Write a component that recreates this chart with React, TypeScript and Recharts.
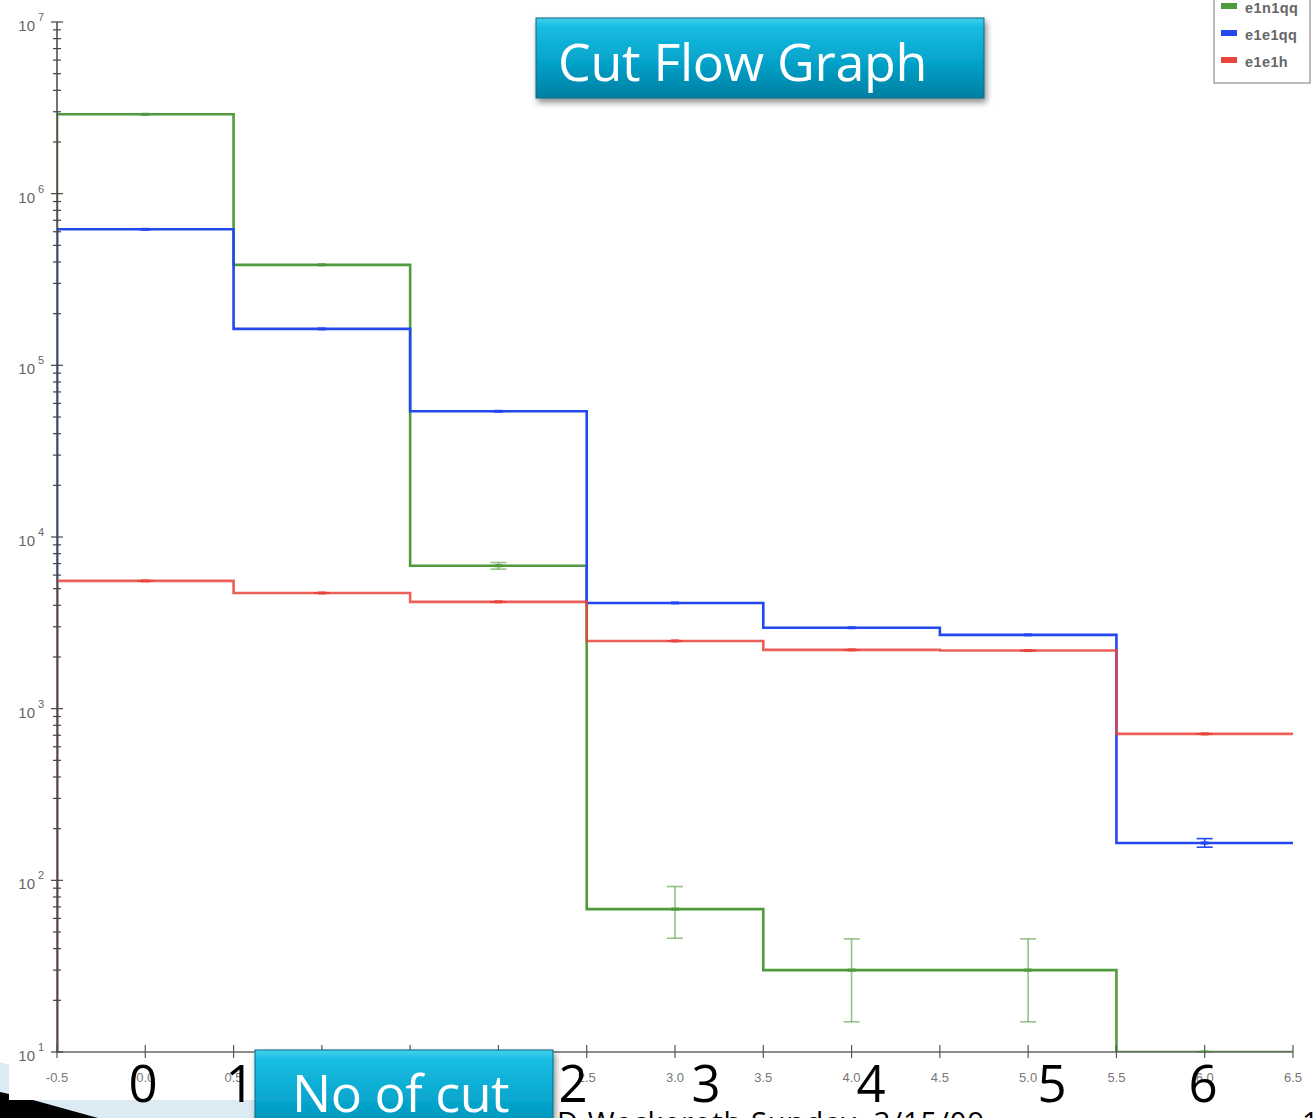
import React from "react";
import { ComposedChart, Line, Scatter, ErrorBar, XAxis, YAxis } from "recharts";

// bins of the cut-flow histogram: centre 0..6, edges at half-integers
const binCenters = [0, 1, 2, 3, 4, 5, 6];
const binEdges = [-0.5, 0.5, 1.5, 2.5, 3.5, 4.5, 5.5, 6.5];

// events surviving each cut
const e1n1qq = [2.9e6, 3.85e5, 6.8e3, 68, 30, 30, 10];
const e1e1qq = [6.2e5, 1.63e5, 5.4e4, 4.13e3, 2.96e3, 2.69e3, 165];
const e1e1h = [5.55e3, 4.72e3, 4.19e3, 2.48e3, 2.2e3, 2.18e3, 713];

// statistical errors per bin as [down, up]
const e1n1qqErr = [[0, 0], [0, 0], [300, 300], [22, 24], [15, 15.6], [15, 15.6], [0, 0]];
const e1e1qqErr = [[0, 0], [0, 0], [0, 0], [0, 0], [0, 0], [0, 0], [9, 10]];
const e1e1hErr = [[0, 0], [0, 0], [0, 0], [0, 0], [0, 0], [0, 0], [0, 0]];

const xTicks = [-0.5, 0, 0.5, 1, 1.5, 2, 2.5, 3, 3.5, 4, 4.5, 5, 5.5, 6, 6.5];
const decades = [10, 1e2, 1e3, 1e4, 1e5, 1e6, 1e7];
const minorSteps = [2, 3, 4, 5, 6, 7, 8, 9];

const cutLabels = ["0", "1", "2", "3", "4", "5", "6"];
const CUT_LABEL_X = [143, 240, 573, 706, 871, 1052, 1203];

const Y_MIN = 10;
const W = 1316;
const H = 1118;

const series = [
  { name: "e1n1qq", values: e1n1qq, errs: e1n1qqErr, color: "#4f9a3c", errColor: "rgba(79,154,60,0.6)", opacity: 1 },
  { name: "e1e1qq", values: e1e1qq, errs: e1e1qqErr, color: "#2448f0", errColor: "#2448f0", opacity: 1 },
  { name: "e1e1h", values: e1e1h, errs: e1e1hErr, color: "#e8453c", errColor: "#e8453c", opacity: 0.85 },
];

const yTicks = decades.flatMap((d, i) =>
  i === decades.length - 1 ? [d] : [d, ...minorSteps.map((m) => d * m)]
);

// histogram outline: rise from the axis at the first edge, then one step per bin
function stepData(values: number[]) {
  const pts = [{ x: binEdges[0], y: Y_MIN }];
  values.forEach((v, i) => pts.push({ x: binEdges[i], y: v }));
  pts.push({ x: binEdges[binEdges.length - 1], y: values[values.length - 1] });
  return pts;
}

function centreData(values: number[], errs: number[][]) {
  return binCenters.map((c, i) => ({ x: c, y: values[i], err: errs[i] }));
}

const XTick = ({ x, y, payload }: any) => (
  <g>
    <line x1={x} x2={x} y1={y - 7} y2={y + 6} stroke="#555" strokeWidth={1.2} />
    <text x={x} y={y + 30} textAnchor="middle" fontSize={13} fill="#777" fontFamily="Liberation Sans, Arial, sans-serif">
      {payload.value.toFixed(1)}
    </text>
  </g>
);

const YTick = ({ x, y, payload }: any) => {
  const v = payload.value;
  const exp = Math.round(Math.log10(v));
  const major = Math.abs(v - Math.pow(10, exp)) < 1e-6 * v;
  const len = major ? 6 : 4;
  return (
    <g>
      <line x1={x - len} x2={x + len} y1={y} y2={y} stroke="#444" strokeWidth={1.2} />
      {major && (
        <g fontFamily="Liberation Sans, Arial, sans-serif" fill="#666">
          <text x={x - 22} y={y + 9} textAnchor="end" fontSize={15}>10</text>
          <text x={x - 19} y={y - 1} fontSize={11}>{exp}</text>
        </g>
      )}
    </g>
  );
};

function Marker({ cx, cy, fill }: any) {
  if (cx == null || cy == null) return null;
  return <rect x={cx - 4} y={cy - 1.5} width={8} height={3} fill={fill} />;
}

function Overlay() {
  return (
    <svg width={W} height={H} style={{ position: "absolute", left: 0, top: 0, pointerEvents: "none" }}>
      <defs>
        <linearGradient id="teal" x1="0" y1="0" x2="0" y2="1">
          <stop offset="0%" stopColor="#45d0ee" />
          <stop offset="10%" stopColor="#19bde2" />
          <stop offset="55%" stopColor="#05a3ca" />
          <stop offset="100%" stopColor="#067ea2" />
        </linearGradient>
        <filter id="shadow" x="-10%" y="-20%" width="120%" height="150%">
          <feDropShadow dx={2} dy={4} stdDeviation={3} floodColor="#000" floodOpacity={0.45} />
        </filter>
      </defs>

      {/* legend */}
      <g>
        <rect x={1214} y={-2} width={96} height={85} fill="#fff" stroke="#777" strokeWidth={1} />
        {series.map((s, i) => (
          <g key={s.name}>
            <rect x={1221} y={3 + i * 27} width={16} height={6} fill={s.color} />
            <text x={1245} y={13 + i * 27} fontSize={14.5} fontWeight={600} letterSpacing={0.4} fill="#666"
              fontFamily="Liberation Sans, Arial, sans-serif">{s.name}</text>
          </g>
        ))}
      </g>

      {/* title */}
      <rect x={536} y={18} width={448} height={80} fill="url(#teal)" stroke="#0b6684" strokeWidth={1} filter="url(#shadow)" />
      <text x={558} y={81} fontSize={52} letterSpacing={-0.3} fill="#fff" fontFamily="Open Sans, sans-serif">
        Cut Flow Graph
      </text>

      {/* lower-left corner decoration */}
      <polygon points="0,1062 9,1065 9,1100 255,1100 255,1118 0,1118" fill="#dcebf3" />
      <polygon points="0,1092 9,1094 9,1100 33,1100 98,1118 0,1118" fill="#000" />

      {/* axis caption */}
      <rect x={255} y={1050} width={298} height={100} fill="url(#teal)" stroke="#0b6684" strokeWidth={1} filter="url(#shadow)" />
      <text x={292} y={1112} fontSize={52} letterSpacing={-0.5} fill="#fff" fontFamily="Open Sans, sans-serif">
        No of cut
      </text>

      {/* cut numbers */}
      {cutLabels.map((c, i) => (
        <text key={c} x={CUT_LABEL_X[i]} y={1102} textAnchor="middle" fontSize={51} fill="#000"
          fontFamily="Open Sans, sans-serif">{c}</text>
      ))}

      {/* footer */}
      <text x={557} y={1133} fontSize={29} letterSpacing={1} fill="#000" fontFamily="Open Sans, sans-serif">
        D.Wackeroth   Sunday, 3/15/09
      </text>
      <text x={1302} y={1133} fontSize={29} fill="#000" fontFamily="Open Sans, sans-serif">1</text>
    </svg>
  );
}

export default function App() {
  return (
    <div style={{ position: "absolute", left: 0, top: 0, width: W, height: H, overflow: "hidden", background: "#fff" }}>
      <ComposedChart width={W} height={H} margin={{ top: 22, right: 23, bottom: 26, left: 0 }}>
        <XAxis
          dataKey="x"
          type="number"
          domain={[-0.5, 6.5]}
          ticks={xTicks}
          interval={0}
          allowDataOverflow
          tickLine={false}
          tickSize={0}
          tickMargin={0}
          height={40}
          axisLine={{ stroke: "#666", strokeWidth: 1.5 }}
          tick={<XTick />}
        />
        <YAxis
          dataKey="y"
          scale="log"
          domain={[Y_MIN, 1e7]}
          ticks={yTicks}
          interval={0}
          allowDataOverflow
          tickLine={false}
          tickSize={0}
          tickMargin={0}
          width={57}
          axisLine={{ stroke: "#444", strokeWidth: 1.5 }}
          tick={<YTick />}
        />
        {series.map((s) => (
          <Line
            key={s.name}
            data={stepData(s.values)}
            dataKey="y"
            type="stepAfter"
            stroke={s.color}
            strokeOpacity={s.opacity}
            strokeWidth={2.6}
            dot={false}
            activeDot={false}
            isAnimationActive={false}
          />
        ))}
        {series.map((s) => (
          <Scatter
            key={s.name + "-c"}
            data={centreData(s.values, s.errs)}
            dataKey="y"
            fill={s.color}
            shape={<Marker />}
            isAnimationActive={false}
          >
            <ErrorBar dataKey="err" direction="y" width={8} stroke={s.errColor} strokeWidth={1.6} />
          </Scatter>
        ))}
      </ComposedChart>
      <Overlay />
    </div>
  );
}
